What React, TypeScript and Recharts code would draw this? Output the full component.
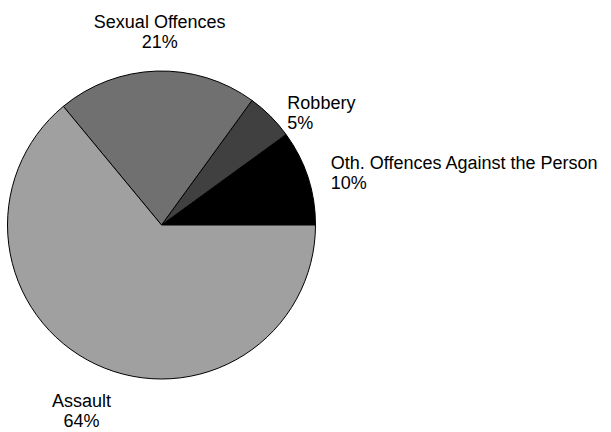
import { PieChart, Pie, Cell } from "recharts";

const categories = [
  "Oth. Offences Against the Person",
  "Robbery",
  "Sexual Offences",
  "Assault",
];
const shares = [10, 5, 21, 64];
const fills = ["#000000", "#404040", "#707070", "#a0a0a0"];

const data = categories.map((name, i) => ({ name, value: shares[i] }));

const RADIAN = Math.PI / 180;

function renderLabel(props: any) {
  const { cx, cy, midAngle, outerRadius, name, value } = props;
  const r = outerRadius + 24;
  const cos = Math.cos(-midAngle * RADIAN);
  const sin = Math.sin(-midAngle * RADIAN);
  let x = cx + r * cos;
  const y = cy + r * sin;
  let anchor: "start" | "middle" | "end" = "middle";
  let y1 = y;
  if (cos > 0.6) {
    anchor = "start";
    y1 = y - 3 + sin * sin * 25;
  } else if (cos < -0.6) {
    anchor = "end";
    y1 = y - 3 + sin * sin * 25;
  } else if (sin < 0) {
    // above the pie: block sits on the point
    x = cx + (r + 10) * cos * 0.3;
    y1 = y - 19;
  } else {
    // below the pie: block hangs from the point, kept inside the frame
    x = cx + (r + 10) * cos;
    y1 = y + 21;
  }
  return (
    <text
      x={x}
      y={y1}
      textAnchor={anchor}
      fill="#000"
      fontSize={18}
      fontFamily="'Liberation Sans', Arial, sans-serif"
    >
      <tspan x={x} dy={0}>{name}</tspan>
      <tspan x={x} dy={20}>{`${value}%`}</tspan>
    </text>
  );
}

export default function App() {
  return (
    <div style={{ position: "absolute", left: 0, top: 0, width: 611, height: 432, background: "#fff" }}>
      <PieChart width={611} height={432} margin={{ top: 0, right: 0, bottom: 0, left: 0 }}>
        <Pie
          data={data}
          dataKey="value"
          nameKey="name"
          cx={161.5}
          cy={225}
          outerRadius={154}
          startAngle={0}
          endAngle={360}
          stroke="#000"
          strokeWidth={1}
          label={renderLabel}
          labelLine={false}
          isAnimationActive={false}
        >
          {data.map((d, i) => (
            <Cell key={d.name} fill={fills[i]} />
          ))}
        </Pie>
      </PieChart>
    </div>
  );
}
